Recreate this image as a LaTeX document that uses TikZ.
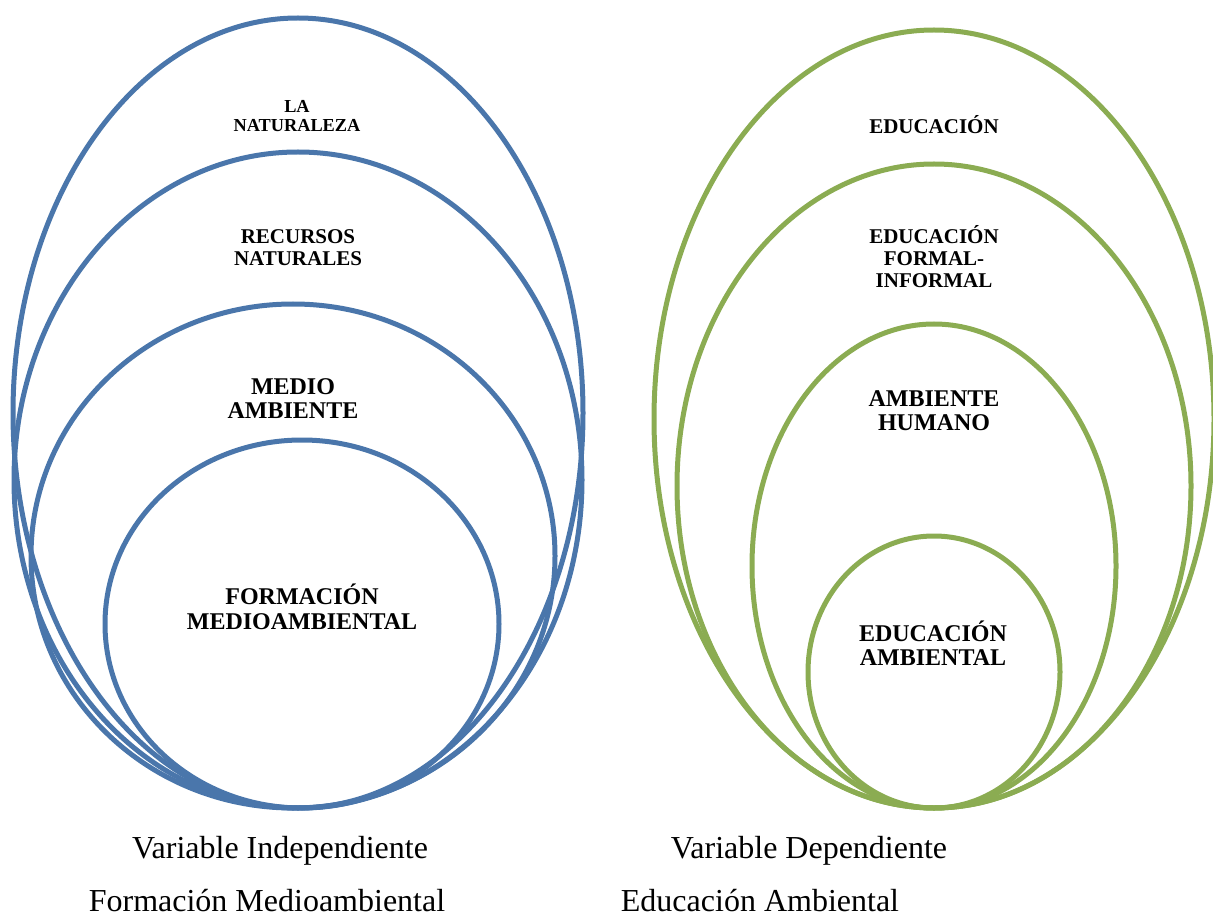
\documentclass[tikz,border=0pt]{standalone}
\usepackage{fontspec}
\setmainfont{Liberation Serif}
\usetikzlibrary{positioning}
\definecolor{indblue}{RGB}{74,118,171}
\definecolor{depgreen}{RGB}{139,172,82}
\tikzset{
  indring/.style={draw=indblue,line width=5pt},
  depring/.style={draw=depgreen,line width=5pt},
  smalltxt/.style={align=center,inner sep=0pt,font=\fontsize{18.3}{18.5}\selectfont\bfseries},
  midtxt/.style={align=center,inner sep=0pt,font=\fontsize{21}{22}\selectfont\bfseries},
  bigtxt/.style={align=center,inner sep=0pt,font=\fontsize{24}{24.5}\selectfont\bfseries},
  captxt/.style={anchor=base,inner sep=0pt,font=\fontsize{32}{34}\selectfont}
}

\begin{document}
\begin{tikzpicture}[x=1pt,y=1pt]
    \useasboundingbox (0,0) rectangle (1213,-917);

    % variable independiente
    \draw[indring] (298,-413) ellipse [x radius=285, y radius=395];
    \draw[indring] (298,-480) ellipse [x radius=284, y radius=328];
    \draw[indring] (293,-556) ellipse [x radius=262, y radius=252];
    \draw[indring] (302,-624) ellipse [x radius=197, y radius=184];

    \node[smalltxt] (nat) at (297,-116) {LA\\NATURALEZA};
    \node[midtxt] (rec) at (298,-247.5) {RECURSOS\\NATURALES};
    \node[bigtxt] (med) at (293,-398.5) {MEDIO\\AMBIENTE};
    \node[bigtxt] (fma) at (302,-607) {FORMACIÓN\\MEDIOAMBIENTAL};

    % variable dependiente
    \draw[depring] (934,-419) ellipse [x radius=280, y radius=389];
    \draw[depring] (934,-486) ellipse [x radius=257, y radius=322];
    \draw[depring] (934,-566) ellipse [x radius=182, y radius=242];
    \draw[depring] (934,-672) ellipse [x radius=126, y radius=136];

    \node[midtxt] (edu) at (934,-125) {EDUCACIÓN};
    \node[midtxt] (efi) at (934,-257) {EDUCACIÓN\\FORMAL-\\INFORMAL};
    \node[bigtxt] (ahu) at (934,-410.5) {AMBIENTE\\HUMANO};
    \node[bigtxt] (eam) at (933,-643) {EDUCACIÓN\\AMBIENTAL};

    % leyendas
    \node[captxt] (vi) at (280,-858) {Variable Independiente};
    \node[captxt] (vd) at (809,-858) {Variable Dependiente};
    \node[captxt] (fm) at (267,-911) {Formación Medioambiental};
    \node[captxt] (ea) at (760,-911) {Educación Ambiental};
\end{tikzpicture}
\end{document}
